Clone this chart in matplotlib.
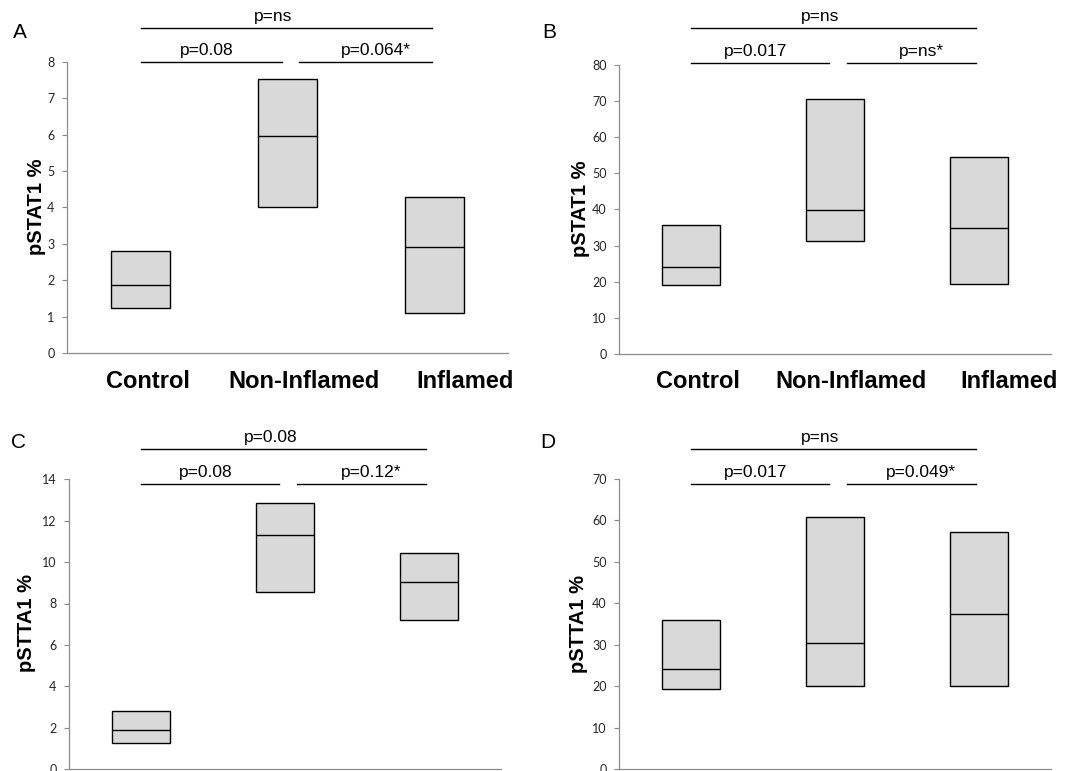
import numpy as np
import matplotlib.pyplot as plt
import matplotlib.transforms as mtransforms

categories = ['Control', 'Non-Inflamed', 'Inflamed']

# box bottom / median / top
a_low = [1.24, 4.02, 1.11]
a_med = [1.87, 5.97, 2.91]
a_high = [2.80, 7.52, 4.30]

b_low = [19.2, 31.3, 19.4]
b_med = [24.1, 39.8, 34.8]
b_high = [35.8, 70.4, 54.4]

c_low = [1.25, 8.57, 7.20]
c_med = [1.87, 11.30, 9.05]
c_high = [2.79, 12.85, 10.44]

d_low = [19.3, 20.1, 20.0]
d_med = [24.2, 30.4, 37.5]
d_high = [35.9, 60.9, 57.1]

a_p = ['p=ns', 'p=0.08', 'p=0.064*']
b_p = ['p=ns', 'p=0.017', 'p=ns*']
c_p = ['p=0.08', 'p=0.08', 'p=0.12*']
d_p = ['p=ns', 'p=0.017', 'p=0.049*']

W, H = 1071, 771
fig = plt.figure(figsize=(W / 100, H / 100), dpi=100)
plt.rcParams['font.family'] = ['Liberation Sans', 'DejaVu Sans']

def fy(py):
    return 1 - py / H

# panel layout in pixels: left, right, top, bottom of the axes
panels = [
    dict(letter='A', box=(67, 508, 62, 353), low=a_low, med=a_med, high=a_high,
         ylim=8, step=1, ylab='pSTAT1 %', ylab_xy=(37, 207), let_xy=(20, 32),
         lines=(28, 62), p=a_p, xlabels=True),
    dict(letter='B', box=(619, 1051, 64.7, 354), low=b_low, med=b_med, high=b_high,
         ylim=80, step=10, ylab='pSTAT1 %', ylab_xy=(581, 209), let_xy=(549, 32),
         lines=(28, 63), p=b_p, xlabels=True),
    dict(letter='C', box=(69, 501, 479.3, 769.1), low=c_low, med=c_med, high=c_high,
         ylim=14, step=2, ylab='pSTTA1 %', ylab_xy=(27, 623), let_xy=(19, 443),
         lines=(449.3, 484.3), p=c_p, xlabels=False),
    dict(letter='D', box=(619, 1051, 479, 769.1), low=d_low, med=d_med, high=d_high,
         ylim=70, step=10, ylab='pSTTA1 %', ylab_xy=(578, 624), let_xy=(548, 443),
         lines=(449.3, 484.3), p=d_p, xlabels=False),
]

label_shift = [0.05, 0.11, 0.21]

for pn in panels:
    l, r, t, b = pn['box']
    ax = fig.add_axes([l / W, fy(b), (r - l) / W, (b - t) / H])
    x = np.arange(len(categories))
    low = np.array(pn['low'])
    high = np.array(pn['high'])
    ax.bar(x, high - low, bottom=low, width=0.4, color='#d9d9d9',
           edgecolor='black', linewidth=1.0, zorder=2)
    ax.hlines(pn['med'], x - 0.2, x + 0.2, color='black', linewidth=1.0, zorder=3)

    ax.set_xlim(-0.5, 2.5)
    ax.set_ylim(0, pn['ylim'])
    ax.set_yticks(np.arange(0, pn['ylim'] + pn['step'] / 2, pn['step']))
    ax.set_xticks([])
    for s in ['top', 'right']:
        ax.spines[s].set_visible(False)
    for s in ['left', 'bottom']:
        ax.spines[s].set_color('#8c8c8c')
        ax.spines[s].set_linewidth(0.9)
    ax.tick_params(axis='y', length=3.5, width=0.8, color='#8c8c8c', pad=5.5,
                   labelsize=9, labelcolor='#262626')
    for lab in ax.get_yticklabels():
        lab.set_fontfamily('Lato')

    if pn['xlabels']:
        tr = mtransforms.blended_transform_factory(ax.transData, fig.transFigure)
        for i, c in enumerate(categories):
            ax.text(i + label_shift[i], fy(382), c, transform=tr, ha='center',
                    va='center', fontsize=17, fontweight='bold', clip_on=False)

    # significance brackets
    tr = mtransforms.blended_transform_factory(ax.transData, fig.transFigure)
    y_top, y_low = pn['lines']
    ax.plot([0.0, 1.98], [fy(y_top)] * 2, transform=tr, color='black',
            linewidth=1.0, clip_on=False)
    ax.plot([0.0, 0.96], [fy(y_low)] * 2, transform=tr, color='black',
            linewidth=1.0, clip_on=False)
    ax.plot([1.08, 1.98], [fy(y_low)] * 2, transform=tr, color='black',
            linewidth=1.0, clip_on=False)
    ax.text(0.9, fy(y_top - 4), pn['p'][0], transform=tr, ha='center',
            va='bottom', fontsize=12.5)
    ax.text(0.45, fy(y_low - 4), pn['p'][1], transform=tr, ha='center',
            va='bottom', fontsize=12.5)
    ax.text(1.6, fy(y_low - 4), pn['p'][2], transform=tr, ha='center',
            va='bottom', fontsize=12.5)

    fig.text(pn['ylab_xy'][0] / W, fy(pn['ylab_xy'][1]), pn['ylab'], rotation=90,
             ha='center', va='center', fontsize=14.5, fontweight='bold')
    fig.text(pn['let_xy'][0] / W, fy(pn['let_xy'][1]), pn['letter'],
             ha='center', va='center', fontsize=15)

plt.savefig('out.png', dpi=100)
